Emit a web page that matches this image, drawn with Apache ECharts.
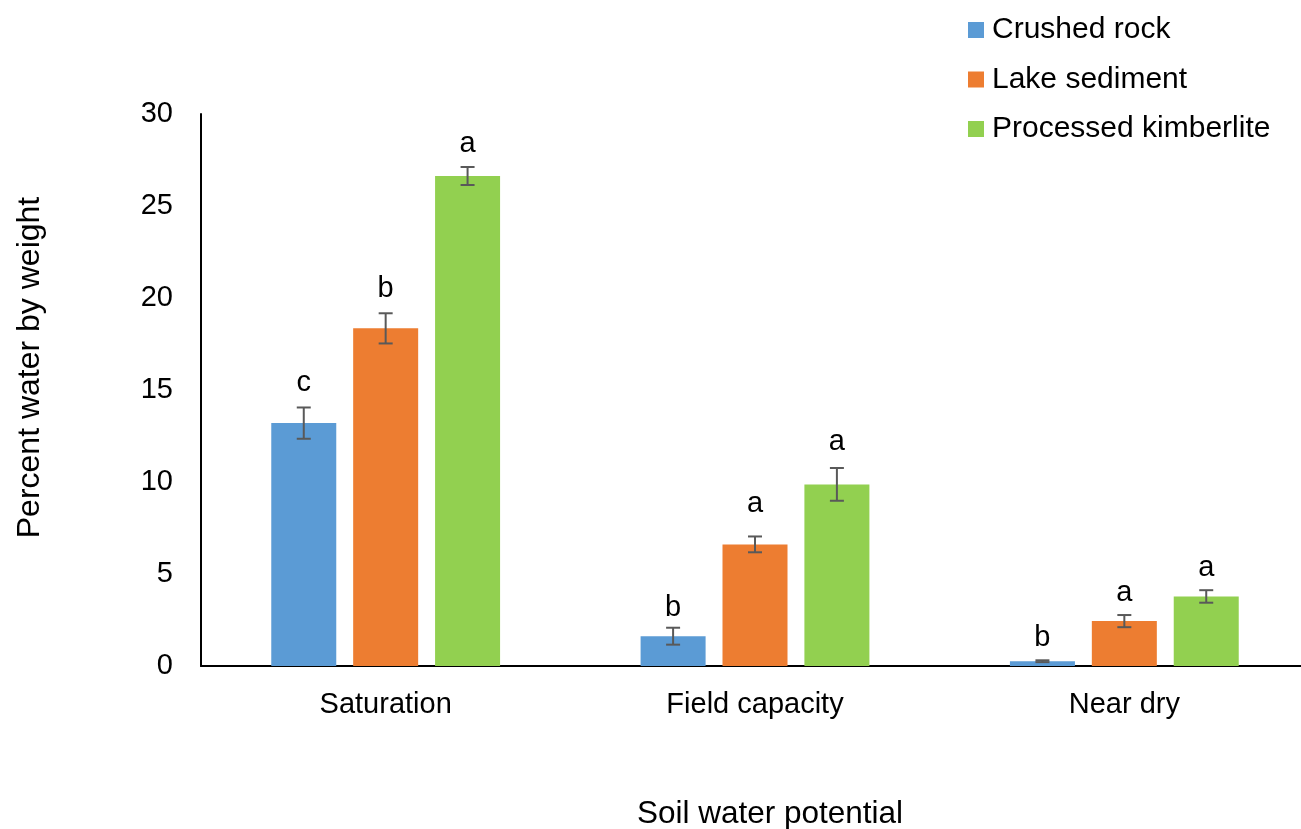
<!DOCTYPE html>
<html>
<head>
<meta charset="utf-8">
<script src="https://cdn.jsdelivr.net/npm/echarts@6/dist/echarts.min.js"></script>
<style>
  html, body { margin: 0; padding: 0; background: #fff; }
  #chart { width: 1301px; height: 829px; }
</style>
</head>
<body>
<div id="chart"></div>
<script>
// Soil water content at three water potentials, by substrate
const categories = ['Saturation', 'Field capacity', 'Near dry'];
const seriesNames = ['Crushed rock', 'Lake sediment', 'Processed kimberlite'];
const crushedRock = [13.2, 1.62, 0.26];
const lakeSediment = [18.35, 6.61, 2.44];
const processedKimberlite = [26.63, 9.87, 3.78];
const crushedRockErr = [0.85, 0.46, 0.05];
const lakeSedimentErr = [0.82, 0.43, 0.33];
const processedKimberliteErr = [0.49, 0.89, 0.34];
const crushedRockLetters = ['c', 'b', 'b'];
const lakeSedimentLetters = ['b', 'a', 'a'];
const processedKimberliteLetters = ['a', 'a', 'a'];
const yTicks = [0, 5, 10, 15, 20, 25, 30];

const colors = ['#5B9BD5', '#ED7D31', '#92D050'];
const values = [crushedRock, lakeSediment, processedKimberlite];
const errors = [crushedRockErr, lakeSedimentErr, processedKimberliteErr];
const letters = [crushedRockLetters, lakeSedimentLetters, processedKimberliteLetters];

// Extra lift (px) of a few significance letters above their error bars
const letterLift = [[2, -3, 0], [2, 10, 0], [0, 4, 0]];

const FONT = '"Liberation Sans", Arial, sans-serif';
const BAR_FRAC = 0.176;   // bar width as share of category band
const GAP_FRAC = 0.26;    // gap between bars as share of bar width

const chart = echarts.init(document.getElementById('chart'));

const barSeries = seriesNames.map((name, i) => ({
  name: name,
  type: 'bar',
  data: values[i],
  barWidth: (BAR_FRAC * 100) + '%',
  barGap: (GAP_FRAC * 100) + '%',
  itemStyle: { color: colors[i] },
  silent: true
}));

// Error bars with significance letters, placed over each bar
const errSeries = seriesNames.map((name, i) => ({
  type: 'custom',
  name: name + ' error',
  silent: true,
  z: 5,
  data: values[i].map((v, k) => [k, v, errors[i][k], letters[i][k]]),
  renderItem: function (params, api) {
    const k = api.value(0);
    const v = api.value(1);
    const e = api.value(2);
    const band = api.size([1, 0])[0];
    const w = band * BAR_FRAC;
    const gap = w * GAP_FRAC;
    const group = 3 * w + 2 * gap;
    const center = api.coord([k, 0])[0];
    const x = center - group / 2 + w / 2 + i * (w + gap);
    const yTop = api.coord([k, v + e])[1];
    const yBot = api.coord([k, v - e])[1];
    const cap = 7;
    const st = { stroke: '#595959', lineWidth: 2 };
    return {
      type: 'group',
      children: [
        { type: 'line', shape: { x1: x, y1: yTop, x2: x, y2: yBot }, style: st },
        { type: 'line', shape: { x1: x - cap, y1: yTop, x2: x + cap, y2: yTop }, style: st },
        { type: 'line', shape: { x1: x - cap, y1: yBot, x2: x + cap, y2: yBot }, style: st },
        {
          type: 'text',
          style: {
            x: x, y: yTop - 8 - letterLift[i][k],
            text: api.value(3),
            align: 'center', verticalAlign: 'bottom',
            font: '29px ' + FONT,
            fill: '#000'
          }
        }
      ]
    };
  }
}));

chart.setOption({
  animation: false,
  backgroundColor: '#fff',
  textStyle: { fontFamily: FONT },
  legend: {
    orient: 'vertical',
    left: 963,
    top: 10,
    itemWidth: 16,
    itemHeight: 16,
    itemGap: 19.5,
    icon: 'rect',
    data: seriesNames,
    textStyle: { fontSize: 30, color: '#000', fontFamily: FONT, padding: [0, 0, 0, 3] }
  },
  grid: { left: 201, right: -8, top: 114, bottom: 163, outerBoundsMode: 'none', containLabel: false },
  xAxis: {
    type: 'category',
    data: categories,
    name: 'Soil water potential',
    nameLocation: 'middle',
    nameGap: 132,
    nameTextStyle: { fontSize: 31.5, color: '#000', fontFamily: FONT, padding: [0, 0, 0, 30] },
    axisLine: { lineStyle: { color: '#000', width: 2 } },
    axisTick: { show: false },
    axisLabel: { fontSize: 29, color: '#000', margin: 24, fontFamily: FONT }
  },
  yAxis: {
    type: 'value',
    min: yTicks[0],
    max: yTicks[yTicks.length - 1],
    interval: 5,
    name: 'Percent water by weight',
    nameLocation: 'middle',
    nameGap: 155,
    nameRotate: 90,
    nameTextStyle: { fontSize: 32, color: '#000', fontFamily: FONT, padding: [0, 0, 0, 45] },
    axisLine: { show: true, lineStyle: { color: '#000', width: 2 } },
    axisTick: { show: false },
    splitLine: { show: false },
    axisLabel: { fontSize: 29, color: '#000', margin: 28, fontFamily: FONT }
  },
  series: barSeries.concat(errSeries)
});
</script>
</body>
</html>
